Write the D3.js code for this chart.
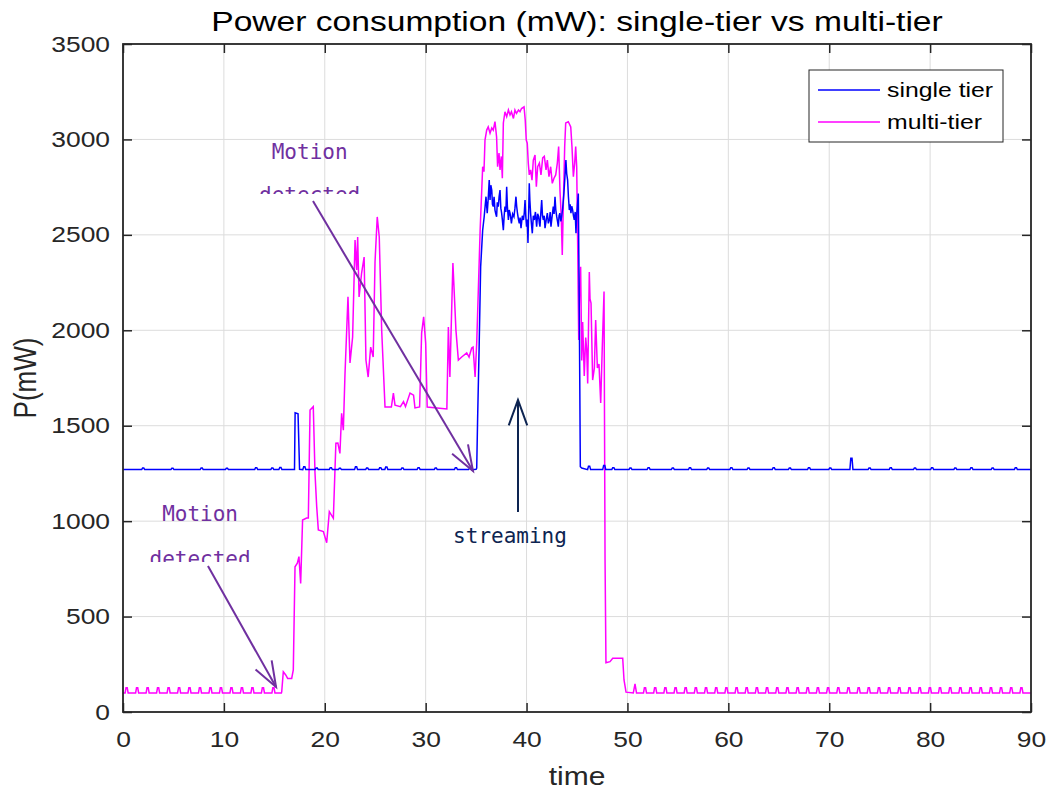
<!DOCTYPE html>
<html>
<head>
<meta charset="utf-8">
<script src="https://cdn.jsdelivr.net/npm/d3@7"></script>
<style>
  body { margin: 0; background: #fff; }
  svg { display: block; }
</style>
</head>
<body>
<div id="chart"></div>
<script>
// datos
const xTicks = [0, 10, 20, 30, 40, 50, 60, 70, 80, 90];
const yTicks = [0, 500, 1000, 1500, 2000, 2500, 3000, 3500];
const seriesNames = ["single tier", "multi-tier"];

const singleBase = 1270;
const multiBase = 100;

const singleTier = [
  [0,1270],[17.0,1270],[17.06,1568],[17.35,1562],[17.5,1272],[35.0,1272],
  [35.06,1278],[35.15,1539],[35.3,1914],[35.45,2333],[35.65,2525],[35.8,2595],[35.98,2700],[36.1,2614],
  [36.2,2690],[36.3,2787],[36.38,2683],[36.46,2760],[36.55,2735],[36.62,2660],[36.7,2648],[36.78,2700],[36.87,2630],
  [36.95,2610],[37.03,2595],[37.1,2670],[37.2,2648],[37.28,2700],[37.37,2735],[37.45,2640],[37.53,2614],[37.6,2580],
  [37.7,2525],[37.78,2600],[37.86,2648],[37.95,2620],[38.03,2752],[38.1,2650],[38.2,2578],[38.28,2630],[38.36,2614],
  [38.43,2590],[38.5,2560],[38.62,2610],[38.75,2595],[38.85,2640],[38.95,2700],[39.02,2650],[39.1,2614],[39.2,2580],
  [39.28,2560],[39.36,2590],[39.45,2535],[39.58,2600],[39.7,2578],[39.78,2620],[39.85,2683],[39.92,2600],[40.0,2543],
  [40.07,2580],[40.14,2457],[40.2,2600],[40.27,2770],[40.33,2680],[40.4,2614],[40.48,2560],[40.57,2508],[40.67,2600],
  [40.77,2578],[40.88,2620],[41.0,2543],[41.1,2610],[41.2,2595],[41.27,2560],[41.33,2543],[41.42,2620],[41.5,2683],
  [41.58,2600],[41.66,2578],[41.75,2600],[41.83,2535],[41.95,2580],[42.06,2614],[42.16,2560],[42.26,2578],[42.34,2620],
  [42.42,2543],[42.54,2600],[42.65,2648],[42.73,2610],[42.82,2700],[42.9,2630],[42.99,2595],[43.07,2570],[43.15,2543],
  [43.22,2600],[43.3,2614],[43.4,2570],[43.48,2595],[43.58,2640],[43.7,2717],[43.8,2800],[43.9,2892],[43.98,2820],
  [44.07,2787],[44.15,2700],[44.24,2630],[44.32,2660],[44.4,2614],[44.48,2650],[44.57,2630],[44.65,2600],[44.73,2578],
  [44.82,2620],[44.9,2508],[44.96,2600],[45.03,2648],[45.13,2717],[45.23,2090],[45.33,1285],[45.47,1278],[90,1270]
];

// pequenos picos sobre la linea base (tiempo, valor)
const singleBumps = [
  [2.0,1278],[4.9,1277],[7.8,1278],[10.3,1277],[13.2,1280],[14.8,1278],[15.6,1281],[17.97,1285],
  [19.2,1278],[20.6,1280],[21.5,1277],[23.1,1285],[24.2,1278],[25.5,1280],[26.1,1284],[27.7,1278],
  [29.3,1280],[31.0,1278],[33.0,1280],[34.4,1277],[46.2,1288],[47.7,1292],[48.6,1280],[50.3,1278],
  [52.1,1280],[54.5,1278],[56.2,1280],[58.0,1278],[60.3,1280],[62.0,1278],[64.5,1280],[66.1,1278],
  [68.0,1280],[70.1,1278],[72.2,1330],[74.0,1278],[76.1,1280],[78.5,1278],[80.2,1280],[82.5,1278],
  [84.1,1280],[86.2,1278],[88.5,1280]
];

const multiTier = [
  [0,100],[15.7,100],[15.73,105],[15.89,211],[16.13,194],[16.32,176],[16.72,176],[16.88,220],[17.05,761],
  [17.28,780],[17.44,814],[17.61,674],[17.8,1006],[18.2,1016],[18.37,1016],[18.54,1582],[18.86,1600],
  [19.03,1252],[19.2,1076],[19.36,954],[19.86,945],[20.19,887],[20.45,1050],[20.85,1015],[21.1,1408],
  [21.3,1409],[21.5,1355],[21.67,1565],[21.84,1477],[22.0,1766],[22.3,2175],[22.5,1829],[22.76,1965],
  [23.0,2473],[23.16,2316],[23.26,2489],[23.4,2175],[23.65,2300],[23.9,2384],[24.08,1844],[24.3,1755],
  [24.55,1912],[24.8,1860],[24.98,2358],[25.2,2594],[25.4,2489],[25.64,2001],[25.97,1598],[26.6,1598],
  [26.8,1671],[26.96,1608],[27.5,1600],[27.8,1626],[28.0,1600],[28.45,1671],[28.8,1660],[28.94,1593],
  [29.4,1598],[29.6,1986],[29.8,2070],[30.0,1933],[30.15,1598],[32.1,1588],[32.25,2017],[32.4,1755],
  [32.7,2352],[33.0,2001],[33.24,1844],[33.57,1860],[34.07,1881],[34.3,1860],[34.56,1907],[34.7,1912],
  [34.9,1755],[35.06,1933],[35.4,2525],[35.65,2857],[35.78,2831],[35.88,2997],[36.05,3049],[36.2,3066],
  [36.38,3033],[36.55,3060],[36.7,3049],[36.87,3093],[37.03,3013],[37.13,2857],[37.27,2929],[37.37,2840],
  [37.5,2911],[37.6,2797],[37.7,3086],[37.86,3145],[38.03,3119],[38.2,3154],[38.36,3128],[38.5,3145],
  [38.7,3110],[38.85,3154],[39.0,3136],[39.2,3154],[39.35,3145],[39.5,3162],[39.75,3171],[39.87,3101],
  [39.97,2997],[40.07,2980],[40.17,2876],[40.27,2814],[40.4,2840],[40.54,2787],[40.67,2892],[40.84,2918],
  [40.97,2752],[41.1,2857],[41.27,2876],[41.43,2814],[41.6,2903],[41.76,2911],[41.93,2840],[42.06,2892],
  [42.22,2805],[42.39,2857],[42.55,2770],[42.72,2797],[42.89,2814],[43.05,2876],[43.18,2963],[43.31,2735],
  [43.44,2595],[43.54,2395],[43.64,2648],[43.78,2963],[43.88,3086],[44.14,3093],[44.38,3066],[44.5,2963],
  [44.64,2805],[44.77,2876],[44.87,2963],[44.97,2857],[45.07,2438],[45.17,1949],[45.26,2228],[45.36,2333],
  [45.47,1842],[45.56,2043],[45.72,1760],[45.86,1962],[45.96,1902],[46.06,1721],[46.22,2305],[46.29,2164],
  [46.39,2143],[46.55,1739],[46.72,1802],[46.85,2054],[47.02,1802],[47.18,1823],[47.35,1619],[47.5,1902],
  [47.68,2203],[47.78,796],[47.87,258],[48.27,264],[48.54,281],[49.53,281],[49.66,168],[49.86,104],
  [50.58,100],[50.75,147],[50.9,100],[90,100]
];

const multiBumps = [
  [0.36,127],[1.40,127],[2.44,127],[3.48,127],[4.52,127],[5.56,127],[6.59,127],[7.63,127],[8.67,127],
  [9.71,127],[10.75,127],[11.79,127],[12.83,127],[13.87,127],[14.91,127],
  [51.74,127],[52.75,127],[53.76,127],[54.77,127],[55.77,127],[56.78,127],[57.79,127],[58.80,127],
  [59.81,127],[60.82,127],[61.82,127],[62.83,127],[63.84,127],[64.85,127],[65.86,127],[66.87,127],
  [67.87,127],[68.88,127],[69.89,127],[70.90,127],[71.91,127],[72.92,127],[73.92,127],[74.93,127],
  [75.94,127],[76.95,127],[77.96,127],[78.97,127],[79.98,127],[80.98,127],[81.99,127],[83.00,127],
  [84.01,127],[85.02,127],[86.03,127],[87.03,127],[88.04,127],[89.05,127]
];

// anotaciones: texto y flechas (coordenadas en unidades de datos)
const labels = [
  { text: "Motion", t: 18.5, v: 2897, color: "#7030a0", clip: null },
  { text: "detected", t: 18.5, v: 2672, color: "#7030a0", clip: 2714 },
  { text: "Motion", t: 7.64, v: 1000, color: "#7030a0", clip: null },
  { text: "detected", t: 7.64, v: 765, color: "#7030a0", clip: 786 },
  { text: "streaming", t: 38.36, v: 885, color: "#0d2451", clip: null }
];
const arrows = [
  { t0: 18.83, v0: 2677, t1: 34.69, v1: 1263, color: "#7030a0" },
  { t0: 8.42, v0: 765, t1: 15.17, v1: 131, color: "#7030a0" },
  { t0: 39.15, v0: 1048, t1: 39.15, v1: 1635, color: "#0d2451" }
];

// ---- layout
const width = 1048, height = 791;
const margin = { top: 44, right: 17, bottom: 79, left: 123 };
const innerW = width - margin.left - margin.right;
const innerH = height - margin.top - margin.bottom;
const stretch = 1.2; // la figura original tiene el texto ensanchado

const svg = d3.select("#chart").append("svg")
    .attr("width", width)
    .attr("height", height);

const g = svg.append("g")
    .attr("transform", `translate(${margin.left},${margin.top})`);

const x = d3.scaleLinear().domain([0, 90]).range([0, innerW]);
const y = d3.scaleLinear().domain([0, 3500]).range([innerH, 0]);

// rejilla
g.append("g").selectAll("line").data(xTicks).join("line")
    .attr("x1", d => x(d)).attr("x2", d => x(d))
    .attr("y1", 0).attr("y2", innerH)
    .attr("stroke", "#dcdcdc").attr("stroke-width", 1);
g.append("g").selectAll("line").data(yTicks).join("line")
    .attr("x1", 0).attr("x2", innerW)
    .attr("y1", d => y(d)).attr("y2", d => y(d))
    .attr("stroke", "#dcdcdc").attr("stroke-width", 1);

// series (mezcla de la forma principal con los pequenos picos)
function withBumps(main, bumps, base) {
  const pts = main.slice();
  bumps.forEach(([t, v]) => {
    pts.push([t - 0.15, base], [t - 0.06, v], [t + 0.06, v], [t + 0.15, base]);
  });
  return pts.sort((a, b) => a[0] - b[0]);
}

g.append("clipPath").attr("id", "plot-clip")
  .append("rect").attr("width", innerW).attr("height", innerH);

const line = d3.line().x(d => x(d[0])).y(d => y(d[1]));

const plot = g.append("g").attr("clip-path", "url(#plot-clip)");
plot.append("path")
    .datum(withBumps(multiTier, multiBumps, multiBase))
    .attr("d", line)
    .attr("fill", "none")
    .attr("stroke", "#ff00ff")
    .attr("stroke-width", 1.5);
plot.append("path")
    .datum(withBumps(singleTier, singleBumps, singleBase))
    .attr("d", line)
    .attr("fill", "none")
    .attr("stroke", "#0000ff")
    .attr("stroke-width", 1.5);

// ejes
const tickFont = "'Liberation Sans', Arial, Helvetica, sans-serif";

const xAxis = g.append("g")
    .attr("transform", `translate(0,${innerH})`)
    .call(d3.axisBottom(x).tickValues(xTicks).tickSize(-9).tickSizeOuter(0).tickPadding(19).tickFormat(d3.format("d")));
const yAxis = g.append("g")
    .call(d3.axisLeft(y).tickValues(yTicks).tickSize(-9).tickSizeOuter(0).tickPadding(13).tickFormat(d3.format("d")));
const xTop = g.append("g")
    .call(d3.axisTop(x).tickValues(xTicks).tickSize(-9).tickSizeOuter(0).tickFormat(""));
const yRight = g.append("g")
    .attr("transform", `translate(${innerW},0)`)
    .call(d3.axisRight(y).tickValues(yTicks).tickSize(-9).tickSizeOuter(0).tickFormat(""));

[xAxis, yAxis, xTop, yRight].forEach(a => {
  a.select(".domain").remove();
  a.selectAll(".tick line").attr("stroke", "#262626").attr("stroke-width", 1.5);
  a.selectAll(".tick text")
      .attr("font-family", tickFont)
      .attr("font-size", 22)
      .attr("fill", "#262626");
});
xAxis.selectAll(".tick text").attr("transform", `scale(${stretch},1)`);
yAxis.selectAll(".tick text")
    .attr("x", 0)
    .attr("transform", `translate(-13,0) scale(${stretch},1)`);

g.append("rect")
    .attr("width", innerW).attr("height", innerH)
    .attr("fill", "none")
    .attr("stroke", "#262626")
    .attr("stroke-width", 1.8);

// titulos
svg.append("text")
    .attr("transform", `translate(${margin.left + innerW / 2},31) scale(${stretch},1)`)
    .attr("text-anchor", "middle")
    .attr("font-family", tickFont)
    .attr("font-size", 28)
    .attr("fill", "#000")
    .text("Power consumption (mW): single-tier vs multi-tier");

svg.append("text")
    .attr("transform", `translate(${margin.left + innerW / 2},785) scale(${stretch},1)`)
    .attr("text-anchor", "middle")
    .attr("font-family", tickFont)
    .attr("font-size", 25)
    .attr("fill", "#262626")
    .text("time");

svg.append("text")
    .attr("transform", `translate(36,${margin.top + y(1750)}) rotate(-90) scale(1,${stretch})`)
    .attr("text-anchor", "middle")
    .attr("font-family", tickFont)
    .attr("font-size", 26)
    .attr("fill", "#262626")
    .text("P(mW)");

// anotaciones
const monoFont = "'DejaVu Sans Mono', 'Liberation Mono', monospace";
labels.forEach((d, i) => {
  let target = g;
  if (d.clip !== null) {
    g.append("clipPath").attr("id", "label-clip-" + i)
      .append("rect")
        .attr("x", x(d.t) - 80).attr("y", y(d.v) - 40)
        .attr("width", 160).attr("height", y(d.clip) - (y(d.v) - 40));
    target = g.append("g").attr("clip-path", `url(#label-clip-${i})`);
  }
  target.append("text")
      .attr("x", x(d.t))
      .attr("y", y(d.v))
      .attr("text-anchor", "middle")
      .attr("font-family", monoFont)
      .attr("font-size", 21)
      .attr("fill", d.color)
      .text(d.text);
});

arrows.forEach(d => {
  const x0 = x(d.t0), y0 = y(d.v0), x1 = x(d.t1), y1 = y(d.v1);
  const ang = Math.atan2(y0 - y1, x0 - x1);
  const len = 27, spread = 20 * Math.PI / 180;
  const a = g.append("g")
      .attr("stroke", d.color)
      .attr("stroke-width", 2)
      .attr("fill", "none");
  a.append("line").attr("x1", x0).attr("y1", y0).attr("x2", x1).attr("y2", y1);
  a.append("path").attr("d", d3.line()([
    [x1 + len * Math.cos(ang - spread), y1 + len * Math.sin(ang - spread)],
    [x1, y1],
    [x1 + len * Math.cos(ang + spread), y1 + len * Math.sin(ang + spread)]
  ]));
});

// leyenda
const legend = svg.append("g").attr("transform", "translate(809,70)");
legend.append("rect")
    .attr("width", 194).attr("height", 72)
    .attr("fill", "#fff")
    .attr("stroke", "#262626")
    .attr("stroke-width", 1);
const legendColors = ["#0000ff", "#ff00ff"];
seriesNames.forEach((name, i) => {
  const ly = 20 + i * 32;
  legend.append("line")
      .attr("x1", 9).attr("x2", 71)
      .attr("y1", ly).attr("y2", ly)
      .attr("stroke", legendColors[i]).attr("stroke-width", 1.3);
  legend.append("text")
      .attr("transform", `translate(78,${ly}) scale(1.24,1)`)
      .attr("dy", "0.35em")
      .attr("font-family", tickFont)
      .attr("font-size", 20)
      .attr("fill", "#000")
      .text(name);
});
</script>
</body>
</html>
